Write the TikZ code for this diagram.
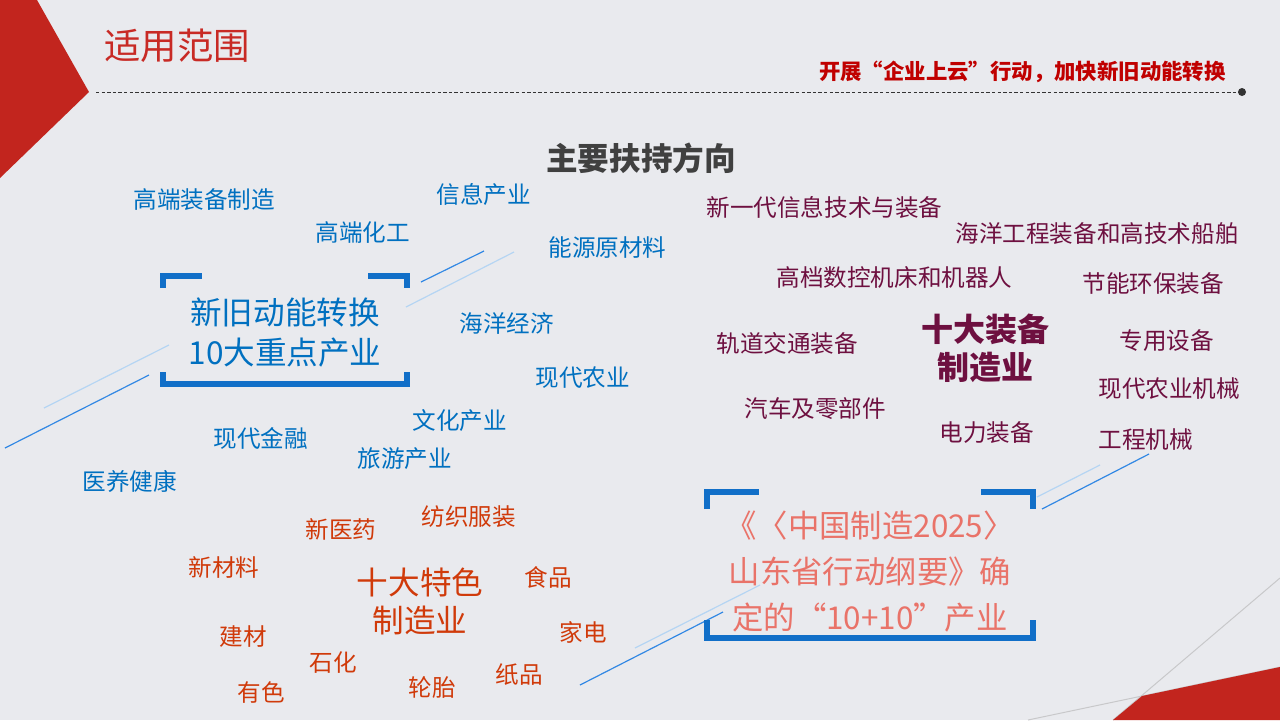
\documentclass[tikz,border=0pt]{standalone}
\usepackage{fontspec}
\setmainfont{Noto Sans CJK SC}
\begin{document}
\begin{tikzpicture}[x=0.5pt, y=-0.5pt,
  item/.style={inner sep=0pt, anchor=west, font=\fontsize{11.8pt}{14pt}\selectfont},
  blueitem/.style={item, text=new blue},
  reditem/.style={item, text=old red},
  wineitem/.style={item, text=wine},
  bigtext/.style={inner sep=0pt, align=center, font=\fontsize{15.8pt}{19pt}\selectfont},
  bracket/.style={draw=bracket blue, line width=3pt, line join=miter},
  darkline/.style={draw=line blue, line width=0.6pt},
  lightline/.style={draw=line light, line width=0.6pt}]
\definecolor{page}{RGB}{233,234,238}
\definecolor{deco red}{RGB}{194,37,30}
\definecolor{title red}{RGB}{200,42,37}
\definecolor{slogan red}{RGB}{192,0,0}
\definecolor{new blue}{RGB}{0,112,192}
\definecolor{old red}{RGB}{208,58,10}
\definecolor{wine}{RGB}{110,16,64}
\definecolor{plan pink}{RGB}{233,115,105}
\definecolor{bracket blue}{RGB}{17,111,200}
\definecolor{line blue}{RGB}{50,136,228}
\definecolor{line light}{RGB}{181,213,243}
\definecolor{rule gray}{RGB}{200,200,202}

\fill[page] (0,0) rectangle (1280,720);
\useasboundingbox (0,0) rectangle (1280,720);

% corners
\fill[deco red] (0,0) -- (37,0) -- (89,92) -- (0,178) -- cycle;
\draw[rule gray, line width=0.5pt] (1028,720) -- (1280,667);
\draw[rule gray, line width=0.5pt] (1113,720) -- (1280,578);
\fill[deco red] (1142,696) -- (1280,667) -- (1280,720) -- (1113,720) -- cycle;

% heading
\node[inner sep=0pt, anchor=west, text=title red, font=\fontsize{18.2pt}{20pt}\selectfont] (title) at (104,46) {适用范围};
\node[inner sep=0pt, anchor=east, text=slogan red, font=\fontsize{10.7pt}{12pt}\selectfont\bfseries] (slogan) at (1226,72) {开展“企业上云”行动，加快新旧动能转换};
\coordinate (ruleend) at (1242,92);
\draw[black!80, line width=0.5pt, dash pattern=on 1.7pt off 1.1pt] (96,92) -- (ruleend);
\fill[black!80] (ruleend) circle (4);
\node[inner sep=0pt, text=black!75, font=\fontsize{15.8pt}{18pt}\selectfont\bfseries] (focus) at (641,158) {主要扶持方向};

% stripes
\draw[darkline] (421,282) -- (484,251);
\draw[lightline] (406,307) -- (514,252);
\draw[lightline] (44,408) -- (169,345);
\draw[darkline] (5,448) -- (149,375);
\draw[darkline] (580,685) -- (723,612);
\draw[lightline] (635,648) -- (760,585);
\draw[lightline] (1037,497) -- (1100,465);
\draw[darkline] (1042,509) -- (1149,454);

% brackets
\draw[bracket] (163,288) -- (163,276) -- (202,276);
\draw[bracket] (368,276) -- (407,276) -- (407,288);
\draw[bracket] (163,372) -- (163,384) -- (407,384) -- (407,372);
\node[bigtext, text=new blue, font=\fontsize{15.8pt}{20pt}\selectfont] (newold) at (285,333) {新旧动能转换\\10大重点产业};

\draw[bracket] (707,509) -- (707,492) -- (759,492);
\draw[bracket] (981,492) -- (1033,492) -- (1033,509);
\draw[bracket] (707,620) -- (707,638) -- (1033,638) -- (1033,620);
\node[bigtext, text=plan pink, font=\fontsize{15.7pt}{23pt}\selectfont] (plan) at (870,572) {《〈中国制造2025〉\\山东省行动纲要》确\\定的“10+10”产业};

% ten key industries
\foreach \x/\y/\t [count=\i] in {133/200/高端装备制造, 436/194/信息产业, 315/233/高端化工,
  548/247/能源原材料, 459/323/海洋经济, 535/378/现代农业, 412/421/文化产业,
  213/438/现代金融, 357/459/旅游产业, 82/481/医养健康}
\node[blueitem] (blue\i) at (\x,\y) {\t};

% ten featured industries
\node[bigtext, text=old red] (featured) at (420,601) {十大特色\\制造业};
\foreach \x/\y/\t [count=\i] in {421/517/纺织服装, 305/529/新医药, 188/567/新材料,
  524/577/食品, 559/632/家电, 219/637/建材, 309/663/石化, 495/675/纸品,
  408/687/轮胎, 237/692/有色}
\node[reditem] (red\i) at (\x,\y) {\t};

% ten equipment industries
\node[bigtext, text=wine, font=\fontsize{16pt}{19pt}\selectfont\bfseries] (equip) at (985,348) {十大装备\\制造业};
\foreach \x/\y/\t [count=\i] in {706/207/新一代信息技术与装备, 955/234/海洋工程装备和高技术船舶,
  776/277/高档数控机床和机器人, 1082/284/节能环保装备, 716/343/轨道交通装备,
  1119/341/专用设备, 1098/389/现代农业机械, 744/409/汽车及零部件,
  939/433/电力装备, 1098/440/工程机械}
\node[wineitem] (wine\i) at (\x,\y) {\t};
\end{tikzpicture}
\end{document}
